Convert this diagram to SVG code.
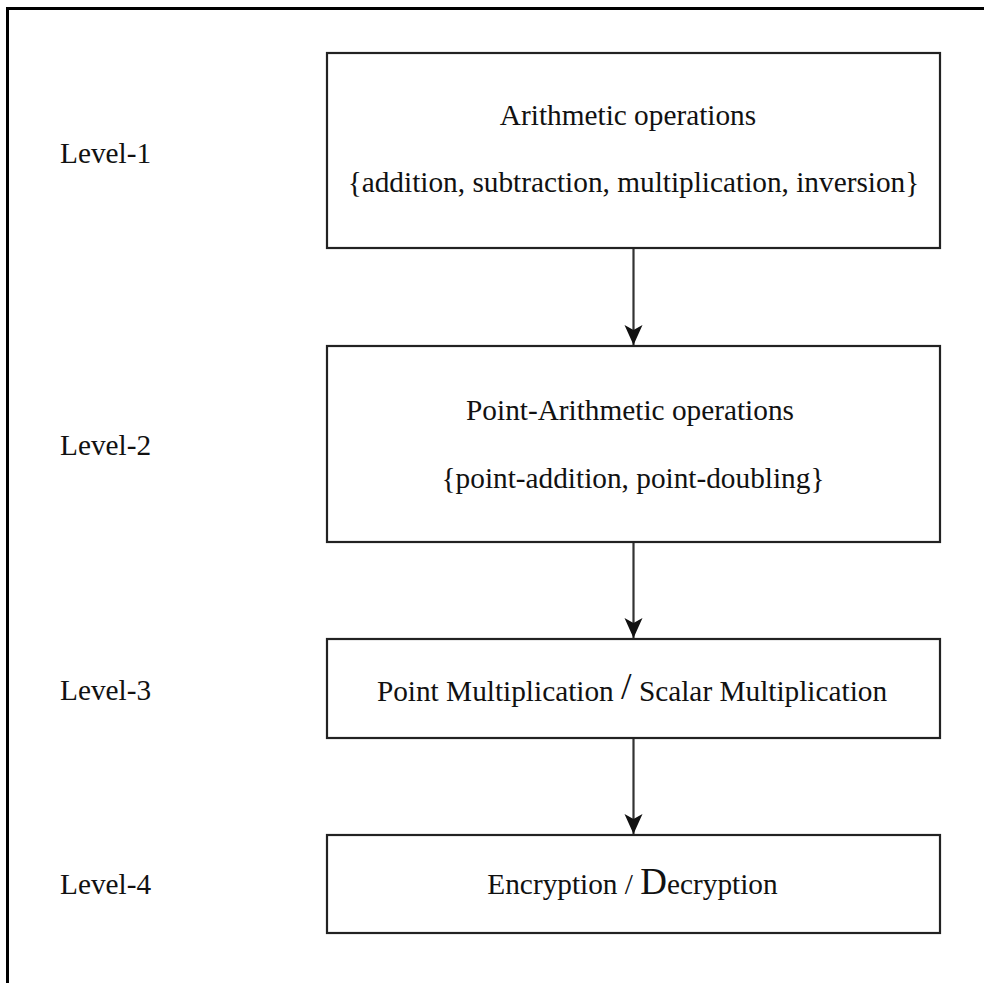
<svg xmlns="http://www.w3.org/2000/svg" width="984" height="983" viewBox="0 0 984 983">
<style>
.t{font-family:"Liberation Serif","DejaVu Serif",serif;font-size:29.3px;fill:#111;}
.m{text-anchor:middle;}
.box{fill:#fff;stroke:#222;stroke-width:2.2;}
.conn{stroke:#333;stroke-width:2.2;fill:none;}
</style>
<defs>
<marker id="ah" markerUnits="userSpaceOnUse" markerWidth="21" markerHeight="18" refX="20" refY="9" orient="auto" overflow="visible">
<path d="M0,0 L20,9 L0,18 L5,9 Z" fill="#111"/>
</marker>
</defs>
<rect width="984" height="983" fill="#fff"/>
<path d="M7.5,990 L7.5,8.5 L990,8.5" fill="none" stroke="#000" stroke-width="3"/>
<g id="labels">
<text class="t" x="60" y="163">Level-1</text>
<text class="t" x="60" y="455">Level-2</text>
<text class="t" x="60" y="700">Level-3</text>
<text class="t" x="60" y="894">Level-4</text>
</g>
<g id="connectors">
<line class="conn" x1="633.5" y1="248" x2="633.5" y2="345" marker-end="url(#ah)"/>
<line class="conn" x1="633.5" y1="543" x2="633.5" y2="638" marker-end="url(#ah)"/>
<line class="conn" x1="633.5" y1="739" x2="633.5" y2="834" marker-end="url(#ah)"/>
</g>
<g id="node1">
<rect class="box" x="327" y="53" width="613" height="195"/>
<text class="t m" x="628" y="125">Arithmetic operations</text>
<text class="t m" x="633.5" y="192">{addition, subtraction, multiplication, inversion}</text>
</g>
<g id="node2">
<rect class="box" x="327" y="346" width="613" height="196"/>
<text class="t m" x="630" y="420">Point-Arithmetic operations</text>
<text class="t m" x="633" y="488">{point-addition, point-doubling}</text>
</g>
<g id="node3">
<rect class="box" x="327" y="639" width="613" height="99"/>
<text class="t m" x="632" y="701">Point Multiplication <tspan font-size="38" dy="-2">/</tspan><tspan dy="2"> Scalar Multiplication</tspan></text>
</g>
<g id="node4">
<rect class="box" x="327" y="835" width="613" height="98"/>
<text class="t m" x="632.5" y="894">Encryption / <tspan font-size="37">D</tspan>ecryption</text>
</g>
</svg>
